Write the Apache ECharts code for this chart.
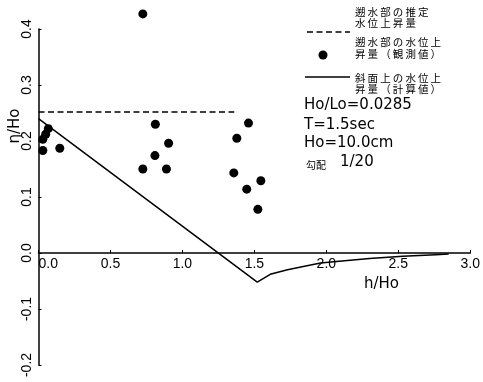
<!DOCTYPE html>
<html>
<head>
<meta charset="utf-8">
<script src="https://cdn.jsdelivr.net/npm/echarts@6/dist/echarts.min.js"></script>
<style>
html,body{margin:0;padding:0;background:#fff;}
#chart{width:483px;height:382px;}
</style>
</head>
<body>
<div id="chart"></div>
<script>
// Observed water level rise (dots): h/Ho, eta/Ho
const obsH   = [0.030, 0.030, 0.050, 0.068, 0.148, 0.725, 0.725, 0.809, 0.812, 0.889, 0.904, 1.357, 1.378, 1.447, 1.459, 1.524, 1.545];
const obsEta = [0.183, 0.203, 0.212, 0.222, 0.187, 0.427, 0.150, 0.174, 0.230, 0.150, 0.196, 0.143, 0.205, 0.114, 0.232, 0.078, 0.129];
// Estimated water level rise in run-up zone (dashed)
const estH   = [0, 1.36];
const estEta = [0.252, 0.252];
// Calculated water level rise on slope (solid)
const calcH   = [0, 1.52, 1.61, 1.73, 1.84, 1.96, 2.07, 2.30, 2.53, 2.76, 2.85];
const calcEta = [0.240, -0.052, -0.038, -0.030, -0.024, -0.018, -0.015, -0.010, -0.006, -0.003, -0.002];
// Axis ticks
const xTicks = { min: 0, max: 3, step: 0.5 };
const yTicks = { min: -0.2, max: 0.4, step: 0.1 };
// Texts
const legendLines = [
  ['遡水部の推定', '水位上昇量'],
  ['遡水部の水位上', '昇量（観測値）'],
  ['斜面上の水位上', '昇量（計算値）']
];
const infoLines = ['Ho/Lo=0.0285', 'T=1.5sec', 'Ho=10.0cm'];
const slopeLabel = ['勾配', '1/20'];
const xName = 'h/Ho';
const yName = 'η/Ho';

const zip = (a, b) => a.map((v, i) => [v, b[i]]);
const sp = s => s.split('').join('\u2009');

const W = 483, H = 382;
const grid = {left: 38.5, right: 8, top: 29, bottom: 17};
const plotH = H - grid.top - grid.bottom;
// shift x axis up so it sits on eta = 0
const xOffset = -plotH * (0 - yTicks.min) / (yTicks.max - yTicks.min);

const chart = echarts.init(document.getElementById('chart'), null, {renderer: 'canvas'});
const axisFont = {fontFamily: 'Liberation Sans', fontSize: 14, color: '#000'};
const lgFont = {fontFamily: 'Noto Sans CJK JP', fontSize: 10.5, fill: '#000'};
const infoFont = 'DejaVu Sans';

const graphics = [];
const lgY = [[13, 24], [43, 55], [79, 90]];
legendLines.forEach((pair, i) => {
  pair.forEach((t, j) => {
    graphics.push({type: 'text', left: 355, top: lgY[i][j] - 6,
      style: Object.assign({text: sp(t)}, lgFont)});
  });
});
graphics.push({type: 'line', shape: {x1: 307, y1: 32, x2: 350, y2: 32},
  style: {stroke: '#000', lineWidth: 1.5, lineDash: [6, 3.5]}});
graphics.push({type: 'circle', shape: {cx: 323, cy: 55, r: 4.5}, style: {fill: '#000'}});
graphics.push({type: 'line', shape: {x1: 305, y1: 77, x2: 350, y2: 77},
  style: {stroke: '#000', lineWidth: 1.5}});
const infoY = [107, 127, 145];
infoLines.forEach((t, i) => {
  graphics.push({type: 'text', left: 304, top: infoY[i] - 9,
    style: {text: t, fontFamily: infoFont, fontSize: 15, fill: '#000'}});
});
graphics.push({type: 'text', left: 306, top: 160,
  style: {text: slopeLabel[0], fontFamily: 'Noto Sans CJK JP', fontSize: 10, fill: '#000'}});
graphics.push({type: 'text', left: 340, top: 155,
  style: {text: slopeLabel[1], fontFamily: infoFont, fontSize: 15, fill: '#000'}});
graphics.push({type: 'text', left: 364, top: 277,
  style: {text: xName, fontFamily: infoFont, fontSize: 15, fill: '#000'}});
graphics.push({type: 'text', x: 15, y: 126, rotation: Math.PI / 2,
  style: {text: yName, fontFamily: infoFont, fontSize: 15, fill: '#000', align: 'center', verticalAlign: 'middle'}});

chart.setOption({
  animation: false,
  backgroundColor: '#fff',
  grid: Object.assign({containLabel: false}, grid),
  xAxis: {
    type: 'value', min: xTicks.min, max: xTicks.max, interval: xTicks.step,
    position: 'bottom', offset: xOffset,
    axisLine: {onZero: false, lineStyle: {color: '#000', width: 1.5}},
    axisTick: {show: true, inside: true, length: 3, lineStyle: {color: '#000'}},
    splitLine: {show: false},
    axisLabel: Object.assign({margin: 4, alignMinLabel: 'left', formatter: v => v.toFixed(1)}, axisFont)
  },
  yAxis: {
    type: 'value', min: yTicks.min, max: yTicks.max, interval: yTicks.step,
    axisLine: {onZero: false, lineStyle: {color: '#000', width: 1.5}},
    axisTick: {show: true, inside: true, length: 3, lineStyle: {color: '#000'}},
    splitLine: {show: false},
    axisLabel: Object.assign({margin: 4, rotate: 90, formatter: v => (Math.abs(v) < 1e-9 ? 0 : v).toFixed(1)}, axisFont)
  },
  graphic: graphics,
  series: [
    {type: 'line', data: zip(estH, estEta), symbol: 'none', clip: false,
     lineStyle: {color: '#000', width: 1.5, type: [6, 3.5]}},
    {type: 'line', data: zip(calcH, calcEta), symbol: 'none', clip: false,
     lineStyle: {color: '#000', width: 1.5}},
    {type: 'scatter', data: zip(obsH, obsEta), symbol: 'circle', symbolSize: 9, clip: false,
     itemStyle: {color: '#000', opacity: 1}}
  ]
});
</script>
</body>
</html>
